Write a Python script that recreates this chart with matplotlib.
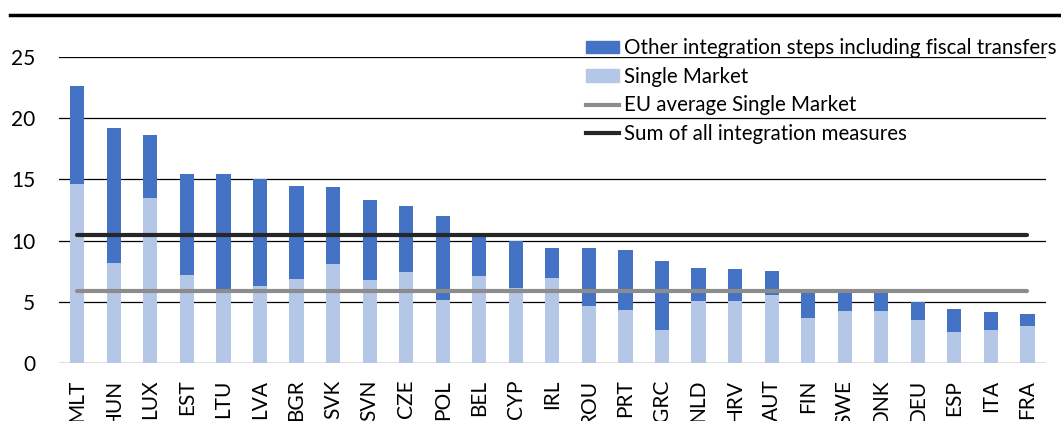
import numpy as np
import matplotlib
matplotlib.use("Agg")
import matplotlib.pyplot as plt
from matplotlib.lines import Line2D
from matplotlib.patches import Patch

countries = ["MLT", "HUN", "LUX", "EST", "LTU", "LVA", "BGR", "SVK", "SVN", "CZE",
             "POL", "BEL", "CYP", "IRL", "ROU", "PRT", "GRC", "NLD", "HRV", "AUT",
             "FIN", "SWE", "DNK", "DEU", "ESP", "ITA", "FRA"]

# total height of each bar
total = [22.6, 19.2, 18.65, 15.45, 15.45, 15.0, 14.5, 14.35, 13.35, 12.8,
         12.05, 10.35, 9.95, 9.4, 9.4, 9.2, 8.3, 7.75, 7.65, 7.55,
         5.75, 5.75, 5.75, 5.0, 4.4, 4.2, 4.0]
single_market = [14.6, 8.2, 13.45, 7.2, 5.9, 6.3, 6.85, 8.1, 6.75, 7.4,
                 5.15, 7.1, 6.1, 6.95, 4.65, 4.35, 2.7, 5.1, 5.1, 5.55,
                 3.65, 4.25, 4.25, 3.55, 2.55, 2.7, 3.0]
other = [t - s for t, s in zip(total, single_market)]

eu_avg_single_market = 5.85
sum_all_measures = 10.45

DARK = "#4472C4"
LIGHT = "#B4C7E7"

plt.rcParams["font.family"] = ["Lato", "DejaVu Sans"]

fig = plt.figure(figsize=(10.61, 4.21), dpi=100)
ax = fig.add_axes([0.0556, 0.1378, 0.930, 0.7268])

x = np.arange(len(countries))
ax.bar(x, single_market, width=0.39, color=LIGHT, zorder=3)
ax.bar(x, other, width=0.39, bottom=single_market, color=DARK, zorder=3)

ax.plot([x[0], x[-1]], [eu_avg_single_market] * 2, color="#8C8C8C", lw=3, zorder=4,
        solid_capstyle="round")
ax.plot([x[0], x[-1]], [sum_all_measures] * 2, color="#262626", lw=3, zorder=4,
        solid_capstyle="round")

ax.set_xlim(-0.5, len(countries) - 0.5)
ax.set_ylim(0, 25)
ax.set_yticks([0, 5, 10, 15, 20, 25])
for v in [5, 10, 15, 20, 25]:
    ax.axhline(v, color="black", lw=0.9, zorder=1)
ax.axhline(0, color="#D9D9D9", lw=1.2, zorder=2)

for s in ax.spines.values():
    s.set_visible(False)
ax.tick_params(axis="y", length=0, pad=17, labelsize=15)
ax.tick_params(axis="x", length=0, pad=12, labelsize=15)
ax.set_xticks(x)
ax.set_xticklabels(countries, rotation=90, va="top")

handles = [Patch(color=DARK), Patch(color=LIGHT),
           Line2D([], [], color="#8C8C8C", lw=3),
           Line2D([], [], color="#262626", lw=3)]
labels = ["Other integration steps including fiscal transfers", "Single Market",
          "EU average Single Market", "Sum of all integration measures"]
leg = fig.legend(handles, labels, loc="upper left", bbox_to_anchor=(586 / 1061, 1 - 38 / 421),
                 frameon=False, fontsize=14.8, handlelength=1.6, handleheight=0.55,
                 handletextpad=0.24, labelspacing=0.42, borderpad=0, borderaxespad=0)
leg.set_zorder(5)

fig.add_artist(Line2D([10 / 1061, 1], [1 - 15 / 421] * 2, color="black", lw=2.5,
                      transform=fig.transFigure))

fig.savefig("out.png", dpi=100)
